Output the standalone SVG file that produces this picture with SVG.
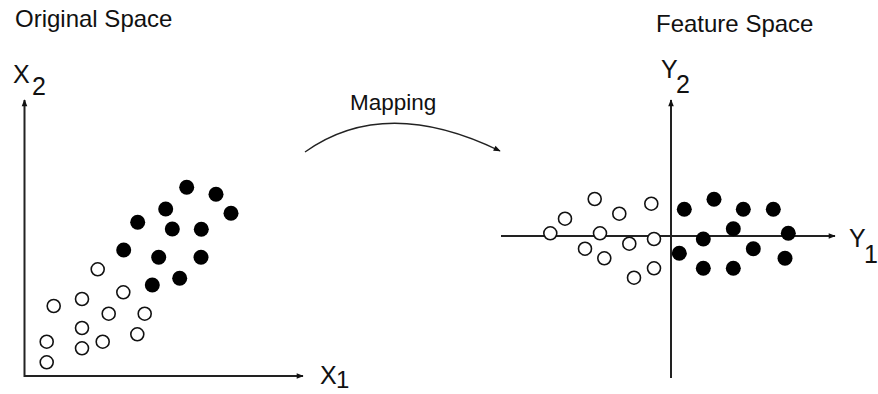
<svg xmlns="http://www.w3.org/2000/svg" width="878" height="394" viewBox="0 0 878 394">
<style>
text{font-family:"Liberation Sans",Arial,sans-serif;fill:#111}
.t{font-size:24px}
.ax{stroke:#222;stroke-width:2;fill:none}
.o{fill:#fff;stroke:#111;stroke-width:1.6}
.f{fill:#000}
</style>
<defs>
<marker id="ah2" viewBox="0 0 10 10" refX="9" refY="5" markerWidth="9" markerHeight="7" orient="auto" markerUnits="userSpaceOnUse">
<path d="M0,1 L10,5 L0,9 z" fill="#111"/>
</marker>
</defs>
<rect width="878" height="394" fill="#fff"/>
<text class="t" x="15" y="27">Original Space</text>
<text class="t" x="656" y="32">Feature Space</text>

<g id="connectors">
<line class="ax" x1="24.5" y1="377" x2="24.5" y2="100" marker-end="url(#ah2)"/>
<line class="ax" x1="24" y1="376" x2="303" y2="376" marker-end="url(#ah2)"/>
<line class="ax" x1="671" y1="378" x2="671" y2="100" marker-end="url(#ah2)"/>
<line class="ax" x1="501" y1="236" x2="835" y2="236" marker-end="url(#ah2)"/>
<path d="M305,152 Q385,95 500,151" fill="none" stroke="#222" stroke-width="1.3" marker-end="url(#ah2)"/>
</g>

<g id="axis-labels">
<text x="13" y="83" font-size="25">X</text><text x="32" y="95" font-size="25">2</text>
<text x="320" y="384" font-size="25">X</text><text x="336" y="388" font-size="24">1</text>
<text x="661" y="78" font-size="25">Y</text><text x="676" y="93" font-size="25">2</text>
<text x="849" y="247" font-size="25">Y</text><text x="864" y="263" font-size="25">1</text>
<text x="350" y="110" font-size="22.5">Mapping</text>
</g>

<g id="original-filled">
<circle class="f" cx="186.7" cy="187.3" r="7.5"/>
<circle class="f" cx="216" cy="194.3" r="7.5"/>
<circle class="f" cx="231" cy="213.3" r="7.5"/>
<circle class="f" cx="165.7" cy="209" r="7.5"/>
<circle class="f" cx="137.7" cy="222.3" r="7.5"/>
<circle class="f" cx="172.3" cy="229" r="7.5"/>
<circle class="f" cx="201.3" cy="229.3" r="7.5"/>
<circle class="f" cx="123.7" cy="250" r="7.5"/>
<circle class="f" cx="158.7" cy="257.3" r="7.5"/>
<circle class="f" cx="201" cy="257.3" r="7.5"/>
<circle class="f" cx="179.7" cy="278.3" r="7.5"/>
<circle class="f" cx="152.3" cy="285" r="7.5"/>
</g>
<g id="original-open">
<circle class="o" cx="97.7" cy="269.3" r="6.5"/>
<circle class="o" cx="123.3" cy="292.3" r="6.5"/>
<circle class="o" cx="53.7" cy="306" r="6.5"/>
<circle class="o" cx="82" cy="299" r="6.5"/>
<circle class="o" cx="108.7" cy="313.7" r="6.5"/>
<circle class="o" cx="144.7" cy="313.7" r="6.5"/>
<circle class="o" cx="82" cy="328" r="6.5"/>
<circle class="o" cx="137.3" cy="334.3" r="6.5"/>
<circle class="o" cx="46.7" cy="341.7" r="6.5"/>
<circle class="o" cx="82" cy="348.3" r="6.5"/>
<circle class="o" cx="102.7" cy="341.7" r="6.5"/>
<circle class="o" cx="46.7" cy="362.3" r="6.5"/>
</g>

<g id="feature-open">
<circle class="o" cx="594.7" cy="199" r="6.5"/>
<circle class="o" cx="565" cy="218.7" r="6.5"/>
<circle class="o" cx="619.3" cy="213.7" r="6.5"/>
<circle class="o" cx="651.3" cy="203.7" r="6.5"/>
<circle class="o" cx="550.3" cy="233.3" r="6.5"/>
<circle class="o" cx="600" cy="233.3" r="6.5"/>
<circle class="o" cx="629.3" cy="243.7" r="6.5"/>
<circle class="o" cx="654" cy="239" r="6.5"/>
<circle class="o" cx="585" cy="248.7" r="6.5"/>
<circle class="o" cx="604.3" cy="258.3" r="6.5"/>
<circle class="o" cx="654" cy="268.3" r="6.5"/>
<circle class="o" cx="634" cy="277.7" r="6.5"/>
</g>
<g id="feature-filled">
<circle class="f" cx="684.3" cy="209.3" r="7.5"/>
<circle class="f" cx="714" cy="199.3" r="7.5"/>
<circle class="f" cx="743.3" cy="209.3" r="7.5"/>
<circle class="f" cx="773.3" cy="209.3" r="7.5"/>
<circle class="f" cx="733.3" cy="228.7" r="7.5"/>
<circle class="f" cx="703.3" cy="239" r="7.5"/>
<circle class="f" cx="788.3" cy="233.3" r="7.5"/>
<circle class="f" cx="679.3" cy="253.3" r="7.5"/>
<circle class="f" cx="753.3" cy="248.7" r="7.5"/>
<circle class="f" cx="785" cy="258.3" r="7.5"/>
<circle class="f" cx="703.3" cy="268.3" r="7.5"/>
<circle class="f" cx="733.3" cy="268.3" r="7.5"/>
</g>
</svg>
